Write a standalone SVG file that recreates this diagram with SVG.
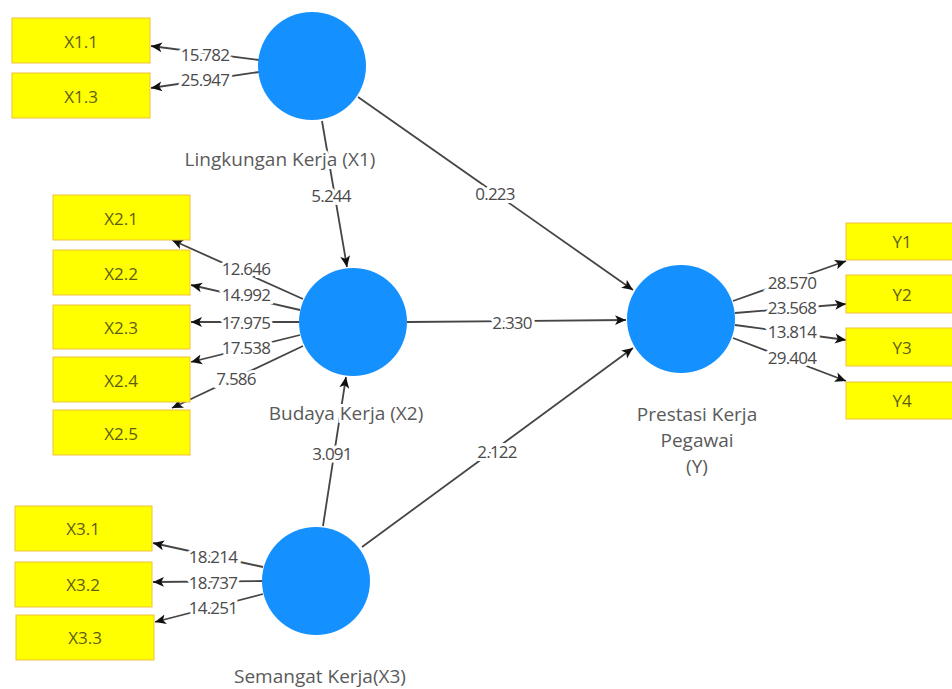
<svg xmlns="http://www.w3.org/2000/svg" width="952" height="689" viewBox="0 0 952 689">
<style>
.box{fill:#FFFF00;stroke:#F0C040;stroke-width:1}
.bt{font-family:"Open Sans","DejaVu Sans",sans-serif;font-size:17px;fill:#5E5E14;text-anchor:middle;dominant-baseline:central}
.lv{fill:#1591FF}
.lt{font-family:"Open Sans","DejaVu Sans",sans-serif;font-size:19px;fill:#5A5A5A;text-anchor:middle}
.w{font-family:"Open Sans","DejaVu Sans",sans-serif;font-size:17px;fill:#4A4A4A;text-anchor:middle;dominant-baseline:central;stroke:#fff;stroke-width:6;paint-order:stroke;letter-spacing:-0.8px}
.c{stroke:#454545;stroke-width:1.8;fill:none;marker-end:url(#ah)}
</style>
<defs>
<marker id="ah" viewBox="0 0 10 10" refX="10" refY="5" markerWidth="11" markerHeight="11" orient="auto" markerUnits="userSpaceOnUse">
<path d="M0,0.5 L10,5 L0,9.5 L2.5,5 Z" fill="#111"/>
</marker>
</defs>
<rect width="952" height="689" fill="#fff"/>
<g id="connectors">
<line class="c" x1="259" y1="60" x2="151" y2="46"/>
<line class="c" x1="259" y1="72" x2="151" y2="88"/>
<line class="c" x1="322" y1="121" x2="347" y2="267"/>
<line class="c" x1="303" y1="299" x2="172" y2="240"/>
<line class="c" x1="300" y1="310" x2="191" y2="285"/>
<line class="c" x1="300" y1="322" x2="191" y2="322"/>
<line class="c" x1="300" y1="335" x2="191" y2="362"/>
<line class="c" x1="303" y1="346" x2="172" y2="408"/>
<line class="c" x1="323" y1="526" x2="346" y2="377"/>
<line class="c" x1="263" y1="567" x2="153" y2="543"/>
<line class="c" x1="263" y1="581" x2="153" y2="582"/>
<line class="c" x1="263" y1="594" x2="155" y2="622"/>
<line class="c" x1="358" y1="97" x2="633" y2="290"/>
<line class="c" x1="407" y1="322" x2="626" y2="320"/>
<line class="c" x1="362" y1="547" x2="633" y2="348"/>
<line class="c" x1="733" y1="301" x2="846" y2="261"/>
<line class="c" x1="735" y1="313" x2="846" y2="304"/>
<line class="c" x1="735" y1="325" x2="846" y2="340"/>
<line class="c" x1="733" y1="338" x2="846" y2="381"/>
<text class="w" x="205" y="54">15.782</text>
<text class="w" x="205" y="79">25.947</text>
<text class="w" x="331" y="195">5.244</text>
<text class="w" x="246" y="268">12.646</text>
<text class="w" x="246" y="294">14.992</text>
<text class="w" x="246" y="322">17.975</text>
<text class="w" x="246" y="347">17.538</text>
<text class="w" x="236" y="378">7.586</text>
<text class="w" x="332" y="453">3.091</text>
<text class="w" x="213" y="556">18.214</text>
<text class="w" x="213" y="582">18.737</text>
<text class="w" x="213" y="607">14.251</text>
<text class="w" x="495" y="193">0.223</text>
<text class="w" x="512" y="322">2.330</text>
<text class="w" x="497" y="451">2.122</text>
<text class="w" x="792" y="282">28.570</text>
<text class="w" x="792" y="307">23.568</text>
<text class="w" x="792" y="331">13.814</text>
<text class="w" x="792" y="357">29.404</text>
</g>
<g id="X1"><circle class="lv" cx="312" cy="66" r="54"/><text class="lt" x="280" y="166" stroke="#fff" stroke-width="6" paint-order="stroke">Lingkungan Kerja (X1)</text></g>
<g id="X2"><circle class="lv" cx="353" cy="322" r="54"/><text class="lt" x="346" y="420" stroke="#fff" stroke-width="6" paint-order="stroke">Budaya Kerja (X2)</text></g>
<g id="X3"><circle class="lv" cx="316" cy="581" r="54"/><text class="lt" x="320" y="683">Semangat Kerja(X3)</text></g>
<g id="Y"><circle class="lv" cx="681" cy="319" r="54"/><text class="lt" x="697" y="421">Prestasi Kerja</text><text class="lt" x="697" y="447">Pegawai</text><text class="lt" x="697" y="473">(Y)</text></g>
<g id="X1.1"><rect class="box" x="12" y="18" width="138" height="45"/><text class="bt" x="81" y="41">X1.1</text></g>
<g id="X1.3"><rect class="box" x="12" y="73" width="138" height="45"/><text class="bt" x="81" y="96">X1.3</text></g>
<g id="X2.1"><rect class="box" x="53" y="195" width="137" height="45"/><text class="bt" x="121" y="218">X2.1</text></g>
<g id="X2.2"><rect class="box" x="53" y="250" width="137" height="45"/><text class="bt" x="121" y="273">X2.2</text></g>
<g id="X2.3"><rect class="box" x="53" y="305" width="137" height="44"/><text class="bt" x="121" y="327">X2.3</text></g>
<g id="X2.4"><rect class="box" x="53" y="357" width="137" height="45"/><text class="bt" x="121" y="380">X2.4</text></g>
<g id="X2.5"><rect class="box" x="53" y="410" width="137" height="45"/><text class="bt" x="121" y="433">X2.5</text></g>
<g id="X3.1"><rect class="box" x="15" y="506" width="137" height="45"/><text class="bt" x="83" y="528">X3.1</text></g>
<g id="X3.2"><rect class="box" x="15" y="562" width="137" height="45"/><text class="bt" x="83" y="584">X3.2</text></g>
<g id="X3.3"><rect class="box" x="16" y="615" width="138" height="45"/><text class="bt" x="85" y="637">X3.3</text></g>
<g id="Y1"><rect class="box" x="846" y="223" width="110" height="37"/><text class="bt" x="902" y="241">Y1</text></g>
<g id="Y2"><rect class="box" x="846" y="275" width="110" height="38"/><text class="bt" x="902" y="294">Y2</text></g>
<g id="Y3"><rect class="box" x="846" y="328" width="110" height="38"/><text class="bt" x="902" y="347">Y3</text></g>
<g id="Y4"><rect class="box" x="846" y="382" width="110" height="37"/><text class="bt" x="902" y="400">Y4</text></g>
</svg>
